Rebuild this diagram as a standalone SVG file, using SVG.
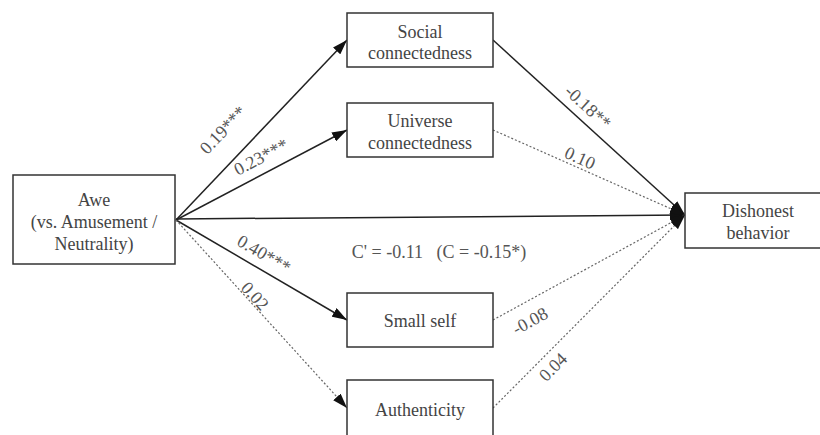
<svg xmlns="http://www.w3.org/2000/svg" width="820" height="435" viewBox="0 0 820 435">
<defs>
<marker id="arr" viewBox="0 0 15 10" refX="15" refY="5" markerWidth="15" markerHeight="10" markerUnits="userSpaceOnUse" orient="auto">
<path d="M0,0 L15,5 L0,10 Z" fill="#111"/>
</marker>
</defs>
<style>
.box{fill:#fff;stroke:#333;stroke-width:1.5}
.t{font-family:'Liberation Serif','Times New Roman',serif;font-size:18px;fill:#444;text-anchor:middle;dominant-baseline:central}
.lab{font-family:'Liberation Serif','Times New Roman',serif;font-size:18px;fill:#555;text-anchor:middle;dominant-baseline:central}
.solid{stroke:#222;stroke-width:1.5;fill:none}
.dot{stroke:#666;stroke-width:1.2;fill:none;stroke-dasharray:2,2}
</style>
<rect width="820" height="435" fill="#fff"/>
<g id="connectors">
<line class="solid" x1="176" y1="220" x2="347" y2="40" marker-end="url(#arr)"/>
<line class="solid" x1="176" y1="220" x2="347" y2="130" marker-end="url(#arr)"/>
<line class="solid" x1="176" y1="220" x2="347" y2="320" marker-end="url(#arr)"/>
<line class="dot" x1="176" y1="220" x2="347" y2="408" marker-end="url(#arr)"/>
<line class="solid" x1="176" y1="219" x2="685" y2="215" marker-end="url(#arr)"/>
<line class="solid" x1="493" y1="40" x2="685" y2="215" marker-end="url(#arr)"/>
<line class="dot" x1="493" y1="130" x2="685" y2="215" marker-end="url(#arr)"/>
<line class="dot" x1="493" y1="320" x2="685" y2="215" marker-end="url(#arr)"/>
<line class="dot" x1="493" y1="408" x2="685" y2="215" marker-end="url(#arr)"/>
<text class="lab" transform="translate(223,130) rotate(-46.5)">0.19***</text>
<text class="lab" transform="translate(261,157) rotate(-27.8)">0.23***</text>
<text class="lab" transform="translate(264,254) rotate(30.3)">0.40***</text>
<text class="lab" transform="translate(255,296) rotate(47.7)">0.02</text>
<text class="lab" transform="translate(588,107) rotate(42.5)">-0.18**</text>
<text class="lab" transform="translate(580,158) rotate(24)">0.10</text>
<text class="lab" transform="translate(530,321) rotate(-28.8)">-0.08</text>
<text class="lab" transform="translate(553,367) rotate(-45.3)">0.04</text>
<text class="lab" x="439" y="252" xml:space="preserve">C' = -0.11   (C = -0.15*)</text>
</g>
<g id="awe">
<rect class="box" x="13" y="175" width="162" height="89"/>
<text class="t" x="94" y="200">Awe</text>
<text class="t" x="94" y="222">(vs. Amusement /</text>
<text class="t" x="94" y="244">Neutrality)</text>
</g>
<g id="social">
<rect class="box" x="347" y="13" width="146" height="54"/>
<text class="t" x="420" y="32">Social</text>
<text class="t" x="420" y="53">connectedness</text>
</g>
<g id="universe">
<rect class="box" x="347" y="103" width="146" height="54"/>
<text class="t" x="420" y="121">Universe</text>
<text class="t" x="420" y="143">connectedness</text>
</g>
<g id="smallself">
<rect class="box" x="347" y="293" width="146" height="54"/>
<text class="t" x="420" y="321">Small self</text>
</g>
<g id="authenticity">
<rect class="box" x="347" y="380" width="146" height="60"/>
<text class="t" x="420" y="410">Authenticity</text>
</g>
<g id="dishonest">
<rect class="box" x="685" y="193" width="140" height="55"/>
<text class="t" x="758" y="211">Dishonest</text>
<text class="t" x="758" y="233">behavior</text>
</g>
</svg>
